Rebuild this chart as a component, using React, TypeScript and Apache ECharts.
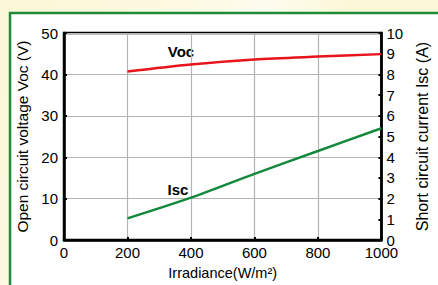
import React, { useEffect, useRef } from "react";
import * as echarts from "echarts";

const irradiance = [200, 400, 600, 800, 1000];
const vocValues = [40.7, 42.4, 43.6, 44.3, 44.9];
const iscValues = [1.05, 2.05, 3.2, 4.3, 5.4];

export default function App() {
  const ref = useRef<HTMLDivElement>(null);
  useEffect(() => {
    if (!ref.current) return;
    const chart = echarts.init(ref.current, undefined, { renderer: "svg" });
    const font = "'Liberation Sans', Arial, sans-serif";
    chart.setOption({
      animation: false,
      backgroundColor: "transparent",
      textStyle: { fontFamily: font },
      graphic: [
        {
          type: "rect",
          z: -10,
          silent: true,
          shape: { x: 10, y: 13, width: 440, height: 290 },
          style: { fill: "#ffffff", stroke: "#1f8a3a", lineWidth: 2.5 },
        },
        {
          type: "text",
          x: 181,
          y: 51,
          style: {
            text: "Voc",
            font: `bold 15px ${font}`,
            fill: "#000",
            align: "center",
            verticalAlign: "middle",
          },
        },
        {
          type: "text",
          x: 178,
          y: 189,
          style: {
            text: "Isc",
            font: `bold 15px ${font}`,
            fill: "#000",
            align: "center",
            verticalAlign: "middle",
          },
        },
      ],
      grid: {
        left: 64,
        top: 33,
        right: 35,
        bottom: 42,
        show: true,
        borderColor: "#000",
        borderWidth: 2.5,
        backgroundColor: "transparent",
      },
      xAxis: {
        type: "value",
        min: 0,
        max: 1000,
        interval: 200,
        name: "Irradiance(W/m²)",
        nameLocation: "middle",
        nameGap: 22,
        nameTextStyle: { fontSize: 14.5, color: "#000", fontFamily: font },
        axisLine: { lineStyle: { color: "#000", width: 2.5 } },
        axisTick: { inside: true, length: 3, lineStyle: { color: "#000", width: 2 } },
        axisLabel: {
          fontSize: 15,
          color: "#000",
          margin: 5,
          fontFamily: font,
          formatter: (v: number) => String(v),
        },
        splitLine: { show: true, lineStyle: { color: "#b4b4b4", width: 1.2 } },
      },
      yAxis: [
        {
          type: "value",
          position: "left",
          min: 0,
          max: 50,
          interval: 10,
          name: "Open circuit voltage Voc (V)",
          nameLocation: "middle",
          nameGap: 29,
          nameTextStyle: { fontSize: 15.5, color: "#000", fontFamily: font },
          axisLine: { show: true, lineStyle: { color: "#000", width: 2.5 } },
          axisTick: { show: true, inside: true, length: 3, lineStyle: { color: "#000", width: 2 } },
          axisLabel: { fontSize: 15, color: "#000", margin: 6, fontFamily: font },
          splitLine: { show: true, lineStyle: { color: "#b4b4b4", width: 1.2 } },
        },
        {
          type: "value",
          position: "right",
          min: 0,
          max: 10,
          interval: 1,
          name: "Short circuit current Isc (A)",
          nameLocation: "middle",
          nameGap: 26,
          nameTextStyle: { fontSize: 16, color: "#000", fontFamily: font },
          axisLine: { show: true, lineStyle: { color: "#000", width: 2.5 } },
          axisTick: { show: true, inside: true, length: 3, lineStyle: { color: "#000", width: 2 } },
          axisLabel: { fontSize: 15, color: "#000", margin: 5, fontFamily: font },
          splitLine: { show: false },
        },
      ],
      series: [
        {
          name: "Voc",
          type: "line",
          yAxisIndex: 0,
          data: irradiance.map((x, i) => [x, vocValues[i]]),
          smooth: 0.3,
          showSymbol: false,
          lineStyle: { color: "#e8141c", width: 2.5 },
        },
        {
          name: "Isc",
          type: "line",
          yAxisIndex: 1,
          data: irradiance.map((x, i) => [x, iscValues[i]]),
          smooth: 0.3,
          showSymbol: false,
          lineStyle: { color: "#14893d", width: 2.5 },
        },
      ],
    });
    return () => chart.dispose();
  }, []);
  return (
    <div
      ref={ref}
      style={{
        position: "fixed",
        left: 0,
        top: 0,
        width: 438,
        height: 285,
        background:
          "linear-gradient(120deg, #fcf7d6 0%, #fdf9e2 30%, #fefcee 45%, #fcf7d6 60%, #fdf9e0 100%)",
      }}
    />
  );
}
